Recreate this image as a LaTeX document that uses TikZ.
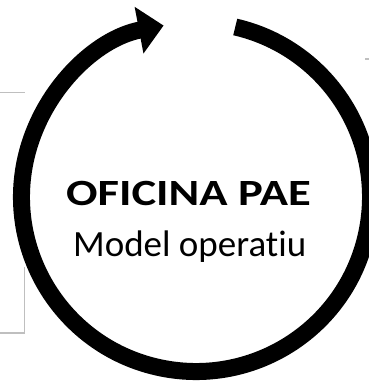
\documentclass[tikz,border=0pt]{standalone}
\usepackage{fontspec}
\setmainfont{Carlito}[Ligatures=NoCommon]
\usetikzlibrary{arrows.meta}
\tikzset{ring/.style = {line width=17pt},
         frame/.style = {draw=black!25, line width=1.4pt}}

\begin{document}
\begin{tikzpicture}[x=1pt,y=1pt]
    \clip (0,0) rectangle (369,-383);
    \coordinate (C) at (196,-197);
    \draw [frame] (0,-92.7) -- (25,-92.7);
    \draw [frame] (24.5,-267) -- (24.5,-333) -- (0,-333);
    \draw [frame] (365,-59) -- (369,-59);
    \draw [ring, -{Triangle[length=25pt,width=46pt]}] (C) ++(77:174.5)
        arc [start angle=77, end angle=-259.3, radius=174.5];
    \node [anchor=base, xscale=1.26] (title) at (188.5,-205) {\fontsize{37}{44}\selectfont\bfseries OFICINA PAE};
    \node [anchor=base] (sub) at (189.7,-256) {\fontsize{37}{44}\selectfont Model operatiu};
\end{tikzpicture}
\end{document}
